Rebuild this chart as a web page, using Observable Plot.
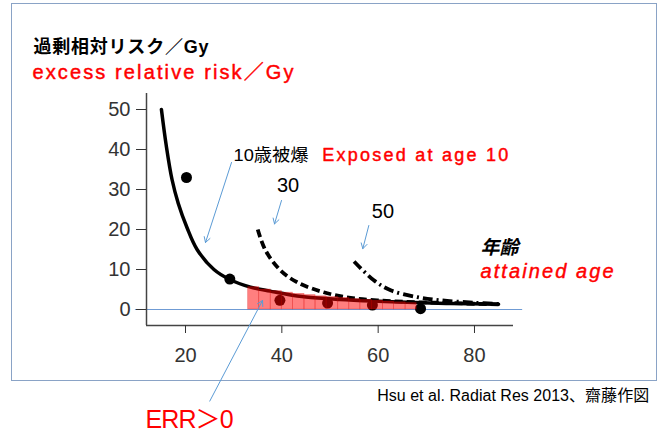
<!DOCTYPE html>
<html><head><meta charset="utf-8">
<script src="https://cdn.jsdelivr.net/npm/d3@7"></script>
<script src="https://cdn.jsdelivr.net/npm/@observablehq/plot@0.6"></script>
<style>
body{margin:0;background:#fff}
#wrap{position:relative;width:659px;height:433px;overflow:hidden}
#box{position:absolute;left:11px;top:3px;width:646px;height:378px;border:1.5px solid #8aa3c6;box-sizing:border-box}
#chart{position:absolute;left:0;top:0}
</style></head>
<body><div id="wrap"><div id="box"></div><div id="chart"></div></div>
<script>
// ---- data ----
const solidAge = [15, 16, 17.2, 18.5, 20.3, 22.4, 25.9, 29.2, 33.5, 37.6, 41, 45, 52, 59, 66, 75, 85];
const solidERR = [50, 41, 32.5, 26.5, 20.5, 15, 10, 7.5, 5.6, 4.6, 3.8, 3.1, 2.5, 2.1, 1.8, 1.5, 1.3];
const dashAge = [35, 36.6, 39.7, 43.2, 48.7, 54.3, 59.8, 66, 72, 78, 85];
const dashERR = [20, 14.8, 9.8, 6.8, 4.3, 2.9, 2.3, 1.9, 1.7, 1.5, 1.3];
const dotdashAge = [55, 59.1, 62.6, 68.1, 73, 80, 85];
const dotdashERR = [12, 7.3, 4.8, 3.1, 2.3, 1.7, 1.4];
const pointAge = [20.2, 29.2, 39.6, 49.5, 58.8, 68.8];
const pointERR = [33, 7.6, 2.3, 1.6, 1.1, 0.2];
const barEdges = [33, 35.3, 37.7, 40, 42.3, 44.7, 47, 49.3, 51.7, 54, 56.3, 58.7, 61, 63.3, 65.7, 68];
const barERR = [5.6, 5.0, 4.6, 4.2, 3.9, 3.6, 3.3, 3.1, 2.9, 2.6, 2.4, 2.2, 2.0, 1.8, 1.6];
const xTicks = [20, 40, 60, 80];
const yTicks = [0, 10, 20, 30, 40, 50];
const xDomain = [11.9, 88.1];
const yDomain = [-4, 54];
const zeroSpan = [9.6, 90];
// annotation arrows: [x1, y1, x2, y2] in age / ERR units
const arrowSpecs = [
  [29.55, 36.75, 24.15, 16.75],
  [39.93, 27.25, 38.48, 21.4],
  [58.06, 21.0, 56.81, 15.2],
  [25.04, -22.9, 35.99, 2.25]
];
const titleJa = "過剰相対リスク／Gy";
const titleEn = "excess relative risk／Gy";
const label10Ja = "10歳被爆";
const label10En = "Exposed at age 10";
const label30 = "30";
const label50 = "50";
const ageJa = "年齢";
const ageEn = "attained age";
const errLabel = "ERR＞0";
const caption = "Hsu et al. Radiat Res 2013、齋藤作図";

// ---- tables ----
const toRows = (xs, ys) => xs.map((a, i) => ({age: a, err: ys[i]}));
const solid = toRows(solidAge, solidERR);
const dashed = toRows(dashAge, dashERR);
const dotdash = toRows(dotdashAge, dotdashERR);
const points = toRows(pointAge, pointERR);
const bars = barERR.map((h, i) => ({x1: barEdges[i], x2: barEdges[i + 1], h}));
const arrows = arrowSpecs.map(([x1, y1, x2, y2]) => ({x1, y1, x2, y2}));

const FONT = "'Liberation Sans', 'Noto Sans CJK JP', sans-serif";
const RED = "#ff0000";
const redText = {fill: RED, stroke: RED, strokeWidth: 0.45};

const chart = Plot.plot({
  width: 659, height: 433,
  marginLeft: 146, marginRight: 146, marginTop: 93, marginBottom: 108,
  style: {fontFamily: FONT, background: "transparent", overflow: "visible"},
  x: {domain: xDomain, label: null},
  y: {domain: yDomain, label: null},
  marks: [
    Plot.ruleY([0], {x1: zeroSpan[0], x2: zeroSpan[1], stroke: "#6f9bd4", strokeWidth: 1.2}),
    Plot.ruleX([xDomain[0]], {y1: yDomain[0], y2: yDomain[1], stroke: "#444", strokeWidth: 1.5}),
    Plot.ruleY([yDomain[0]], {x1: xDomain[0], x2: xDomain[1], stroke: "#444", strokeWidth: 1.5}),
    Plot.axisY(yTicks, {tickSize: 10, tickPadding: 6, fontSize: 20, color: "#333", label: null}),
    Plot.axisX(xTicks, {tickSize: 8, tickPadding: 14, fontSize: 20, color: "#333", label: null}),
    Plot.dot(points, {x: "age", y: "err", r: 5.5, fill: "black"}),
    Plot.line(solid, {x: "age", y: "err", stroke: "black", strokeWidth: 3.5, curve: "catmull-rom"}),
    Plot.line(dashed, {x: "age", y: "err", stroke: "black", strokeWidth: 3.8, curve: "catmull-rom", strokeDasharray: "8,4", strokeLinecap: "butt"}),
    Plot.line(dotdash, {x: "age", y: "err", stroke: "black", strokeWidth: 3.8, curve: "catmull-rom", strokeDasharray: "10,4,2,4", strokeLinecap: "butt"}),
    Plot.rectY(bars, {x1: "x1", x2: "x2", y: "h", fill: RED, fillOpacity: 0.5, stroke: "#d00000", strokeOpacity: 0.3, strokeWidth: 0.8}),
    Plot.arrow(arrows, {x1: "x1", y1: "y1", x2: "x2", y2: "y2", stroke: "#5b9bd5", strokeWidth: 1, headLength: 9}),
    Plot.text([titleJa], {frameAnchor: "top-left", dx: -113, dy: -53, textAnchor: "start", fontSize: 18, fontWeight: "bold", fill: "black"}),
    Plot.text([titleEn], {frameAnchor: "top-left", dx: -114, dy: -29, textAnchor: "start", fontSize: 20, ...redText}),
    Plot.text([label10Ja], {x: 29.97, y: 38.5, textAnchor: "start", fontSize: 17, fill: "black"}),
    Plot.text([label10En], {x: 48.38, y: 38.5, textAnchor: "start", fontSize: 18, ...redText}),
    Plot.text([label30], {x: 41.28, y: 31, fontSize: 20, fill: "black"}),
    Plot.text([label50], {x: 61.0, y: 24.5, fontSize: 20, fill: "black"}),
    Plot.text([ageJa], {x: 81.25, y: 15.4, textAnchor: "start", fontSize: 19, fontWeight: "bold", fontStyle: "italic", fill: "black"}),
    Plot.text([ageEn], {x: 81.25, y: 9.6, textAnchor: "start", fontSize: 20, fontStyle: "italic", ...redText}),
    Plot.text([errLabel], {x: 11.7, y: -27.5, textAnchor: "start", fontSize: 25, fill: RED}),
    Plot.text([caption], {frameAnchor: "bottom-left", dx: 230.7, dy: 75, textAnchor: "start", fontSize: 16, fill: "black"})
  ]
});

const lengths = {};
lengths[titleJa] = [175, "spacing"];
lengths[titleEn] = [261, "spacing"];
lengths[label10Ja] = [75, "spacingAndGlyphs"];
lengths[label10En] = [186, "spacing"];
lengths[ageEn] = [133, "spacing"];
lengths[errLabel] = [88, "spacing"];
lengths[caption] = [272, "spacing"];
d3.select(chart).selectAll("text").each(function() {
  const t = this.textContent;
  if (lengths[t]) {
    this.setAttribute("textLength", lengths[t][0]);
    this.setAttribute("lengthAdjust", lengths[t][1]);
  }
});
document.getElementById("chart").appendChild(chart);
</script>
</body></html>
